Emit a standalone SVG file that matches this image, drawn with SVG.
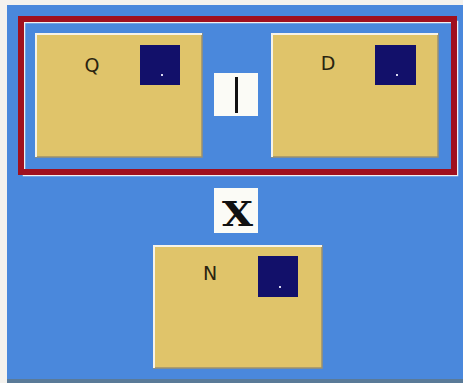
<svg xmlns="http://www.w3.org/2000/svg" width="463" height="383" viewBox="0 0 463 383">
  <style>
    .box { fill: #e0c46a; }
    .hi { fill: none; stroke: #f6f3e8; stroke-width: 2; }
    .sh { fill: none; stroke: #9a9070; stroke-width: 1.5; }
    .sq { fill: #12106a; }
    .dot { fill: #d8d8f0; }
    .lbl { font-family: "DejaVu Sans", "Liberation Sans", sans-serif; font-size: 19px; fill: #2a2410; text-anchor: middle; }
    .op { fill: #fbfbf6; }
  </style>
  <rect x="0" y="0" width="463" height="383" fill="#f4f2ee"/>
  <rect x="7" y="5" width="456" height="378" fill="#4a88dc"/>
  <rect x="7" y="379" width="456" height="4" fill="#5a7a98"/>
  <g id="frame">
    <rect x="24" y="22" width="433" height="153" fill="none" stroke="#f0f0f0" stroke-width="2.5"/>
    <rect x="21" y="19" width="433" height="153" fill="none" stroke="#a0101e" stroke-width="6"/>
  </g>
  <g id="Q">
    <rect class="box" x="35" y="33" width="167" height="124"/>
    <path class="sh" d="M202 33 V157 H35"/>
    <path class="hi" d="M36 157 V34 H202"/>
    <text class="lbl" x="92" y="72">Q</text>
    <rect class="sq" x="140" y="45" width="40" height="40"/>
    <rect class="dot" x="161" y="74" width="2" height="2"/>
  </g>
  <g id="D">
    <rect class="box" x="271" y="33" width="167" height="124"/>
    <path class="sh" d="M438 33 V157 H271"/>
    <path class="hi" d="M272 157 V34 H438"/>
    <text class="lbl" x="328" y="70">D</text>
    <rect class="sq" x="375" y="45" width="41" height="40"/>
    <rect class="dot" x="396" y="74" width="2" height="2"/>
  </g>
  <g id="N">
    <rect class="box" x="153" y="245" width="169" height="123"/>
    <path class="sh" d="M322 245 V368 H153"/>
    <path class="hi" d="M154 368 V246 H322"/>
    <text class="lbl" x="210" y="280">N</text>
    <rect class="sq" x="258" y="256" width="40" height="41"/>
    <rect class="dot" x="279" y="286" width="2" height="2"/>
  </g>
  <g id="connectors">
    <g id="op-or">
      <rect class="op" x="214" y="73" width="44" height="43"/>
      <rect x="235" y="77" width="3" height="36" fill="#111"/>
    </g>
    <g id="op-x">
      <rect class="op" x="214" y="188" width="44" height="45"/>
      <text x="222" y="226" font-family="DejaVu Serif, Liberation Serif, serif" font-weight="bold" font-size="33" fill="#111" textLength="31" lengthAdjust="spacingAndGlyphs">X</text>
    </g>
  </g>
</svg>
